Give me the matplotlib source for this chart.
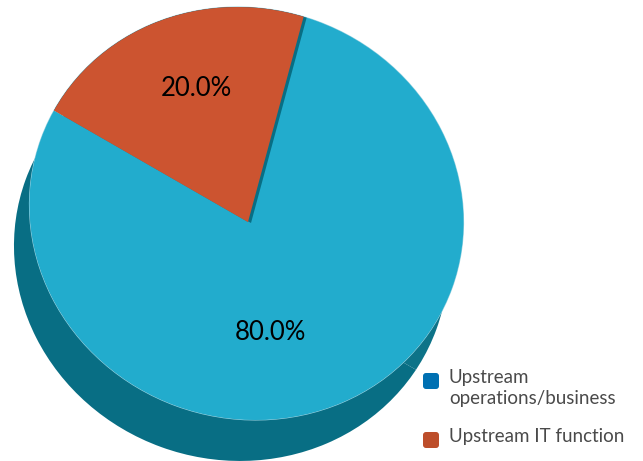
import matplotlib
matplotlib.use('Agg')
import matplotlib.pyplot as plt
from matplotlib.patches import Ellipse, FancyBboxPatch
from matplotlib.transforms import IdentityTransform

# values
labels = ['Upstream\noperations/business', 'Upstream IT function']
shares = [20.0, 80.0]
top_colors = ['#CC5430', '#22ACCD']
side_colors = ['#0D7388', '#086E84']
legend_colors = ['#0070B2', '#BD4E2B']

W, H = 643, 461
apex_x, apex_y = 248, 222     # pixel position of the slice point
R = 217.0                     # pixels per data unit in x
Y_SCALE = 0.92                # the pie is tilted, y is squashed


def to_data(px, py):
    return (px - apex_x) / R, (apex_y - py) / (R * Y_SCALE)


plt.rcParams['font.family'] = ['Lato', 'DejaVu Sans']

fig = plt.figure(figsize=(W / 100, H / 100), dpi=100)
ax = fig.add_axes([0, 0, 1, 1])


def outline(cx, cy, **kw):
    # slightly skewed ellipse, given in image pixels
    return Ellipse((cx, H - cy), 2 * 218.6, 2 * 204.8, angle=-20,
                   transform=IdentityTransform(), **kw)


def clipped_pie(values, colors, center, start, ellipse, z):
    wedges, _ = ax.pie(values, colors=colors, center=center, radius=3.5,
                       startangle=start, counterclock=True, normalize=True,
                       wedgeprops={'linewidth': 0})
    for w in wedges:
        w.set_clip_on(True)
        w.set_clip_path(ellipse)
        w.set_zorder(z)
    return wedges


# side of the pie
side_shape = outline(231, 254.5, fc='none', ec='none')
ax.add_patch(side_shape)
clipped_pie(shares, side_colors, to_data(232, 264), -32, side_shape, 1)

# top face, outlined thinly in a pale blue where it sits on the side
top_shape = outline(246.5, 213.5, fc='none', ec='#9AD3E2', lw=0.8, zorder=2)
ax.add_patch(top_shape)
clipped_pie(shares, top_colors, (0, 0), 76, top_shape, 3)

# dark sliver along the right edge of the red slice
clipped_pie(shares, [side_colors[1], 'none'], to_data(251, 223), 76, top_shape, 4)
clipped_pie(shares, [top_colors[0], 'none'], (0, 0), 76, top_shape, 5)

ax.text(*to_data(196, 88), '%.1f%%' % shares[0], ha='center', va='center',
        fontsize=18.5, color='black', zorder=6)
ax.text(*to_data(270, 332), '%.1f%%' % shares[1], ha='center', va='center',
        fontsize=18.5, color='black', zorder=6)

ax.set_xlim(to_data(0, 0)[0], to_data(W, 0)[0])
ax.set_ylim(to_data(0, H)[1], to_data(0, 0)[1])
ax.set_aspect('auto')

# legend, the swatch sits on the first text line
for label, color, top in zip(labels, legend_colors, [373, 432]):
    fig.add_artist(FancyBboxPatch((425, H - top - 14), 12, 12,
                                  boxstyle='round,pad=2,rounding_size=3',
                                  fc=color, ec='none', transform=IdentityTransform()))
    fig.text(449 / W, 1 - (top - 4) / H, label, ha='left', va='top', fontsize=13.5,
             color='#4A4A4A', linespacing=1.3)

fig.savefig('out.png', dpi=100)
